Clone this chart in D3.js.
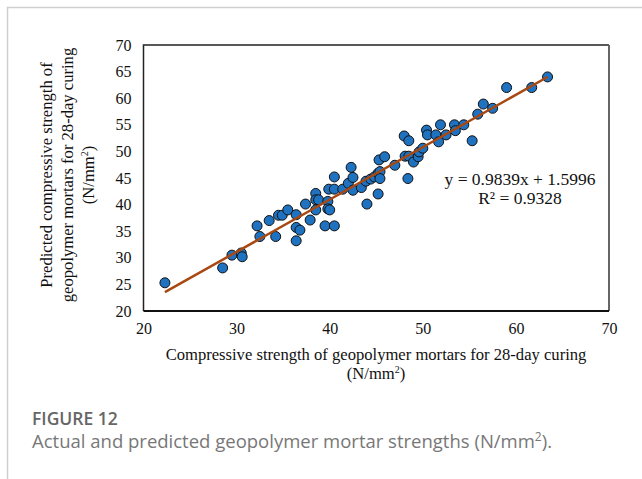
<!DOCTYPE html>
<html>
<head>
<meta charset="utf-8">
<script src="https://cdn.jsdelivr.net/npm/d3@7"></script>
<style>
  body { margin: 0; background: #fff; }
  svg { display: block; }
</style>
</head>
<body>
<svg id="vis" width="642" height="479"></svg>
<script>
// actual strength (x) vs predicted strength (y), N/mm2
const actual = [22.3, 28.5, 29.5, 30.5, 30.6, 32.2, 32.5, 33.5, 34.2, 34.5, 34.9, 35.5,
  36.4, 36.4, 36.8, 36.4, 37.4, 37.9, 38.5, 38.5, 38.8, 38.5, 39.5, 39.8, 39.8, 40.0,
  40.5, 39.9, 40.5, 40.5, 41.4, 42.0, 42.3, 42.5, 42.5, 43.4, 44.0, 43.9, 44.4, 44.8,
  45.2, 45.3, 45.2, 45.4, 45.4, 45.9, 47.0, 48.0, 48.5, 48.1, 48.5, 49.0, 48.4, 49.5,
  49.6, 50.0, 50.4, 50.5, 51.4, 51.9, 51.7, 52.5, 53.4, 53.5, 54.4, 55.3, 55.9, 56.5,
  57.5, 59.0, 61.7, 63.4]
const predicted = [25.3, 28.1, 30.5, 30.9, 30.2, 36.0, 34.0, 37.0, 34.0, 38.0, 38.0, 39.0,
  38.1, 35.7, 35.2, 33.2, 40.1, 37.1, 42.1, 40.9, 40.9, 39.0, 36.0, 40.6, 39.2, 39.0,
  36.0, 42.9, 42.9, 45.2, 42.9, 44.0, 47.0, 45.1, 42.7, 43.2, 40.1, 44.4, 44.8, 45.2,
  45.9, 48.4, 42.0, 46.2, 44.9, 49.0, 47.4, 52.9, 52.0, 49.1, 49.1, 48.0, 44.9, 49.0,
  49.9, 50.6, 54.0, 53.1, 53.1, 55.0, 51.8, 53.1, 55.0, 53.9, 55.0, 52.0, 57.0, 58.9,
  58.1, 62.0, 62.0, 64.0]
const xTicks = [20, 30, 40, 50, 60, 70]
const yTicks = [20, 25, 30, 35, 40, 45, 50, 55, 60, 65, 70]
const slope = 0.9839, intercept = 1.5996
const eqText = 'y = 0.9839x + 1.5996'
const r2Text = 'R² = 0.9328'

const svg = d3.select('#vis')
const plotL = 143.5, plotR = 609, plotT = 45, plotB = 311

const x = d3.scaleLinear().domain([20, 70]).range([plotL, plotR])
const y = d3.scaleLinear().domain([20, 70]).range([plotB, plotT])

// page frame
svg.append('path')
  .attr('d', 'M7.5,479 V7.5 H642')
  .attr('fill', 'none').attr('stroke', '#cfcfcf').attr('stroke-width', 1.5)

// plot border
svg.append('path')
  .attr('d', `M${plotL},${plotB} V${plotT} H${plotR}`)
  .attr('fill', 'none').attr('stroke', '#222').attr('stroke-width', 1.5)
svg.append('line')
  .attr('x1', plotR).attr('x2', plotR).attr('y1', plotT).attr('y2', plotB)
  .attr('stroke', '#666').attr('stroke-width', 2)
svg.append('line')
  .attr('x1', plotL).attr('x2', plotR).attr('y1', plotB).attr('y2', plotB)
  .attr('stroke', '#111').attr('stroke-width', 1.8)

const serif = 'Liberation Serif, Times New Roman, serif'

// axes (labels only)
svg.append('g')
  .attr('transform', `translate(0,${plotB + 9})`)
  .call(d3.axisBottom(x).tickValues(xTicks).tickSize(0).tickFormat(d3.format('d')))
svg.append('g')
  .attr('transform', `translate(${plotL - 9},0)`)
  .call(d3.axisLeft(y).tickValues(yTicks).tickSize(0).tickFormat(d3.format('d')))
svg.selectAll('.domain').remove()
svg.selectAll('.tick text')
  .attr('font-family', serif).attr('font-size', 16).attr('fill', '#111')

// axis titles
const xt = svg.append('text').attr('text-anchor', 'middle')
  .attr('font-family', serif).attr('font-size', 16.6).attr('fill', '#111')
xt.append('tspan').attr('x', 376).attr('y', 360)
  .text('Compressive strength of geopolymer mortars for 28-day curing')
const xt2 = xt.append('tspan').attr('x', 376).attr('y', 379)
xt2.append('tspan').text('(N/mm')
xt2.append('tspan').attr('font-size', 10).attr('dy', -6).text('2')
xt2.append('tspan').attr('dy', 6).text(')')

const yt = svg.append('text').attr('text-anchor', 'middle')
  .attr('transform', 'translate(0,175) rotate(-90)')
  .attr('font-family', serif).attr('font-size', 16.6).attr('fill', '#111')
yt.append('tspan').attr('x', 0).attr('y', 52).text('Predicted compressive strength of')
yt.append('tspan').attr('x', 0).attr('y', 73).text('geopolymer mortars for 28-day curing')
const yt3 = yt.append('tspan').attr('x', 0).attr('y', 94)
yt3.append('tspan').text('(N/mm')
yt3.append('tspan').attr('font-size', 10).attr('dy', -6).text('2')
yt3.append('tspan').attr('dy', 6).text(')')

// points
const pts = actual.map((a, i) => ({a, p: predicted[i]}))
svg.append('g').selectAll('circle').data(pts).join('circle')
  .attr('cx', d => x(d.a)).attr('cy', d => y(d.p)).attr('r', 5)
  .attr('fill', '#1f72c0').attr('stroke', '#111').attr('stroke-width', 1)

// trend line
const xmin = d3.min(actual), xmax = d3.max(actual)
svg.append('line')
  .attr('x1', x(xmin)).attr('y1', y(slope * xmin + intercept))
  .attr('x2', x(xmax)).attr('y2', y(slope * xmax + intercept))
  .attr('stroke', '#a84812').attr('stroke-width', 2.5)

// equation
svg.append('text').attr('x', 520).attr('y', 185).attr('text-anchor', 'middle')
  .attr('font-family', serif).attr('font-size', 17.5).attr('fill', '#111').text(eqText)
svg.append('text').attr('x', 520).attr('y', 204).attr('text-anchor', 'middle')
  .attr('font-family', serif).attr('font-size', 17.5).attr('fill', '#111').text(r2Text)

// caption
svg.append('text').attr('x', 32).attr('y', 425)
  .attr('font-family', 'Open Sans, sans-serif').attr('font-size', 17.5).attr('font-weight', 600)
  .attr('fill', '#666').text('FIGURE 12')
const cap = svg.append('text').attr('x', 32).attr('y', 448)
  .attr('font-family', 'Open Sans, sans-serif').attr('font-size', 18.5).attr('fill', '#777')
cap.append('tspan').text('Actual and predicted geopolymer mortar strengths (N/mm')
cap.append('tspan').attr('font-size', 12).attr('dy', -7).text('2')
cap.append('tspan').attr('dy', 7).text(').')
</script>
</body>
</html>
